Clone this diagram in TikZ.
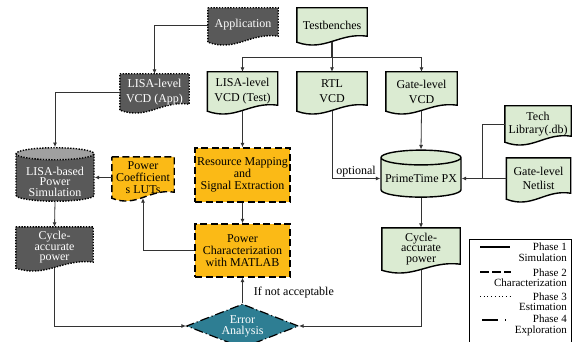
\documentclass[tikz,border=0pt]{standalone}
\usepackage{fontspec}
\setmainfont{Liberation Serif}
\usepackage{tikz}
\usetikzlibrary{shapes.geometric, arrows.meta, calc, backgrounds}
\definecolor{simfill}{HTML}{DBEBD2}
\definecolor{charfill}{HTML}{FBBA16}
\definecolor{estfill}{HTML}{595959}
\definecolor{estend}{HTML}{A0A0A0}
\definecolor{explfill}{HTML}{2E7E93}
\definecolor{wirecol}{HTML}{333333}
\tikzset{
    box/.style={align=center, inner sep=1pt, font=\fontsize{12}{12}\selectfont},
    sim/.style={draw=black, line width=1.4pt, fill=simfill},
    charz/.style={draw=black, line width=1.4pt, dash pattern=on 7pt off 3.5pt, fill=charfill},
    estim/.style={draw=black, line width=1.4pt, dash pattern=on 1.4pt off 1.4pt, fill=estfill},
    explo/.style={draw=black, line width=1.2pt, dash pattern=on 9pt off 3pt on 1pt off 3pt, fill=explfill},
    wire/.style={draw=wirecol, line width=0.8pt},
    flow/.style={wire, -{Latex[length=4.5pt, width=4pt]}},
    legtext/.style={align=right, anchor=east, inner sep=0pt, font=\fontsize{11}{10.5}\selectfont}
}
\newcommand{\docshape}[2][]{%
  \path[#1] (#2.north west) -- (#2.north east) -- ([yshift=6pt]#2.south east)
    .. controls ($(#2.south west)!0.6!(#2.south east)+(0,10pt)$)
    and ($(#2.south west)!0.4!(#2.south east)+(0,-10pt)$) .. (#2.south west) -- cycle;}

\begin{document}
\begin{tikzpicture}[x=1pt, y=-1pt]
\useasboundingbox (0,0) rectangle (580,342);

\node[box, minimum width=70, minimum height=34, text=white] (app) at (243,25) {Application};
\node[box, minimum width=70, minimum height=34] (tb) at (332,25) {Testbenches};
\node[box, minimum width=69, minimum height=36, text=white] (lisaapp) at (154.5,92) {LISA-level\\[3pt]VCD (App)};
\node[box, minimum width=70, minimum height=39] (lisatest) at (242.5,91.5) {LISA-level\\[3pt]VCD (Test)};
\node[box, minimum width=70, minimum height=39] (rtl) at (332,91.5) {RTL\\[3pt]VCD};
\node[box, minimum width=71, minimum height=39] (gatevcd) at (421.5,91.5) {Gate-level\\[3pt]VCD};
\node[box, minimum width=66, minimum height=36] (tech) at (538,124) {Tech\\[1pt]Library(.db)};
\node[box, minimum width=64, minimum height=41] (netlist) at (538.5,178.5) {Gate-level\\[2pt]Netlist};
\node[box, minimum width=62, minimum height=41] (luts) at (143,177.5) {Power\\Coefficient\\s LUTs};
\node[box, minimum width=77, minimum height=41, text=white] (cycapp) at (54.5,247.5) {Cycle-\\[-1.5pt]accurate\\[-1.5pt]power};
\node[box, minimum width=78, minimum height=42] (cycrtl) at (421,249) {Cycle-\\[-1.5pt]accurate\\[-1.5pt]power};

\node[box, estim, fill=none, cylinder, shape border rotate=90, aspect=0.2, inner ysep=0pt,
      minimum width=78, minimum height=51, cylinder uses custom fill,
      cylinder body fill=estfill, cylinder end fill=estend, text=white]
      (lisasim) at (55,178.5) {\rule{0pt}{15pt}LISA-based\\[-1.5pt]Power\\[-1.5pt]Simulation};
\node[box, sim, fill=none, cylinder, shape border rotate=90, aspect=0.2,
      minimum width=80, minimum height=47, cylinder uses custom fill,
      cylinder body fill=simfill, cylinder end fill=simfill]
      (ptpx) at (421,178.5) {PrimeTime PX};

\node[box, charz, minimum width=95, minimum height=54] (resmap) at (242.5,175) {Resource Mapping\\and\\Signal Extraction};
\node[box, charz, minimum width=95, minimum height=53] (powchar) at (242.5,250.5) {Power\\Characterization\\with MATLAB};
\node[box, explo, diamond, aspect=2.5, inner sep=0pt, minimum width=112, minimum height=44, text=white]
      (err) at (242.5,326) {Error\\[-1pt]Analysis};

\begin{scope}[on background layer]
  \docshape[estim]{app}
  \docshape[estim]{lisaapp}
  \docshape[estim]{cycapp}
  \docshape[sim]{tb}
  \docshape[sim]{lisatest}
  \docshape[sim]{rtl}
  \docshape[sim]{gatevcd}
  \docshape[sim]{tech}
  \docshape[sim]{netlist}
  \docshape[sim]{cycrtl}
  \docshape[charz]{luts}
\end{scope}

\coordinate (split) at (332,57);
\coordinate (libjoin) at (482,178.5);

\draw[wire, line width=1.6pt] (tb.south) -- (split);
\draw[flow] (split) -| (lisatest.north);
\draw[flow] (split) -- (rtl.north);
\draw[flow] (split) -| (gatevcd.north);
\draw[flow] (app.west) -| (lisaapp.north);
\draw[flow] (lisaapp.west) -| (lisasim.north);
\draw[flow] (luts.west) -- (luts.west -| lisasim.east);
\draw[flow] (lisatest.south) -- (resmap.north);
\draw[flow] (resmap.south) -- (powchar.north);
\draw[flow] (powchar.west) -| (luts.south);
\draw[flow] (lisasim.south) -- (cycapp.north);
\draw[flow] (cycapp.south) |- (err.west);
\draw[flow] (err.north) -- node[box, pos=0.42, right=10pt] (notacc) {If not acceptable} (powchar.south);
\draw[flow] (cycrtl.south) |- (err.east);
\draw[flow] (rtl.south) |- node[box, pos=0.75, above] (opt) {optional} (ptpx.west);
\draw[flow] (gatevcd.south) -- (ptpx.north);
\draw[flow] (netlist.west) -- (ptpx.east);
\draw[wire] (tech.west) -| (libjoin);
\draw[flow] (ptpx.south) -- (cycrtl.north);

\node[draw=black, line width=0.7pt, minimum width=102, minimum height=110, anchor=north west] (legend) at (469,239) {};
\node[legtext] (ph1) at (567,252) {Phase 1\\Simulation};
\node[legtext] (ph2) at (567,277.5) {Phase 2\\Characterization};
\node[legtext] (ph3) at (567,301.5) {Phase 3\\Estimation};
\node[legtext] (ph4) at (567,325.5) {Phase 4\\Exploration};
\draw[line width=1.4pt] (480,247) -- (510,247);
\draw[line width=1.4pt, dash pattern=on 9pt off 3pt] (480,272) -- (511,272);
\draw[line width=1pt, dash pattern=on 1pt off 2.7pt] (480,296) -- (510,296);
\draw[line width=1.4pt, dash pattern=on 16pt off 7pt on 1pt off 7pt] (482,320) -- (508,320);
\end{tikzpicture}
\end{document}
